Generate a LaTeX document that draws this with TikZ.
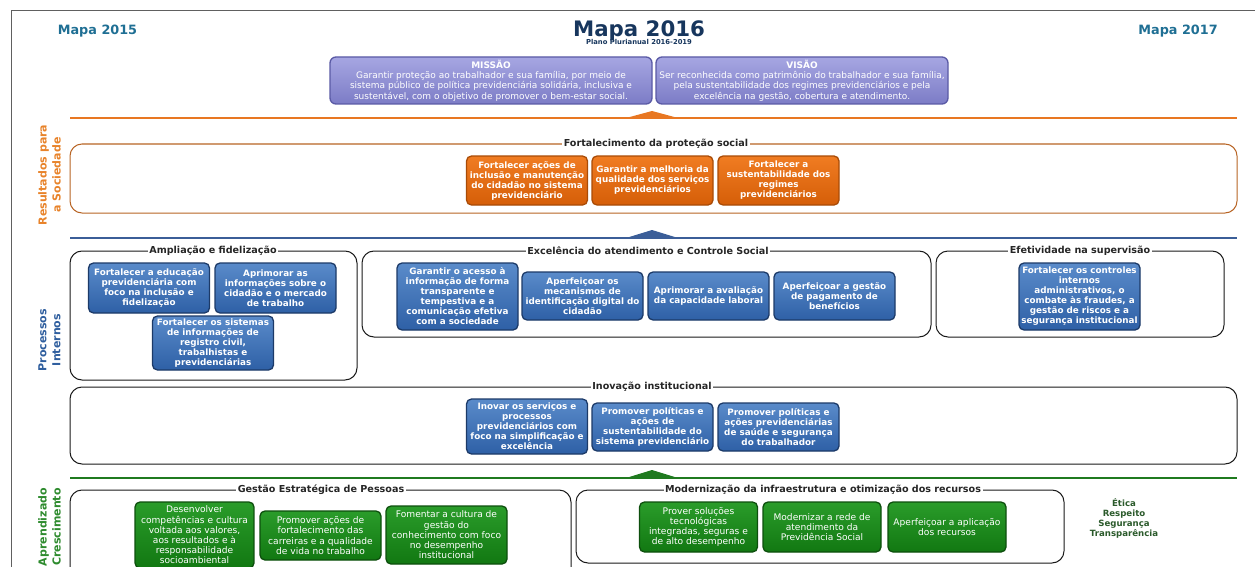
\documentclass[tikz,border=0pt]{standalone}
\usepackage{fontspec}
\setmainfont{DejaVu Sans}
\usetikzlibrary{positioning}

\definecolor{framegray}{HTML}{606060}
\definecolor{mapaside}{HTML}{1F6F94}
\definecolor{mapamain}{HTML}{17365D}
\definecolor{orangeline}{HTML}{E87722}
\definecolor{blueline}{HTML}{3B5E98}
\definecolor{greenline}{HTML}{1F7A1F}
\definecolor{laborange}{HTML}{E8832A}
\definecolor{labblue}{HTML}{2F5E9E}
\definecolor{labgreen}{HTML}{2E8B2E}
\definecolor{resborder}{HTML}{B86424}
\definecolor{grpborder}{HTML}{1A1A1A}
\definecolor{otop}{HTML}{F07C22}
\definecolor{obot}{HTML}{D55E08}
\definecolor{obrd}{HTML}{A94B06}
\definecolor{btop}{HTML}{5A8BCA}
\definecolor{bbot}{HTML}{2E60A6}
\definecolor{bbrd}{HTML}{1C3A68}
\definecolor{gtop}{HTML}{2A9C2A}
\definecolor{gbot}{HTML}{127812}
\definecolor{gbrd}{HTML}{0D4F0D}
\definecolor{ptop}{HTML}{A6A6E2}
\definecolor{pbot}{HTML}{7C7CC6}
\definecolor{pbrd}{HTML}{5A5AA5}
\definecolor{valuecol}{HTML}{2B5A2B}

\begin{document}
\begin{tikzpicture}[x=1pt,y=-1pt,
  objbox/.style={rounded corners=5pt, line width=1.3pt, text=white,
    align=center, minimum width=121pt, inner sep=1pt},
  obox/.style={objbox, draw=obrd, top color=otop, bottom color=obot,
    font=\bfseries\fontsize{8.8}{10}\selectfont},
  bbox/.style={objbox, draw=bbrd, top color=btop, bottom color=bbot,
    font=\bfseries\fontsize{8.8}{10}\selectfont},
  gbox/.style={objbox, draw=gbrd, top color=gtop, bottom color=gbot,
    font=\fontsize{9.1}{10.2}\selectfont},
  pbox/.style={rounded corners=6pt, line width=1.3pt, draw=pbrd,
    top color=ptop, bottom color=pbot, text=white, align=center,
    inner sep=0.5pt, minimum height=47pt,
    font=\fontsize{9}{10.3}\selectfont},
  grp/.style={draw=grpborder, line width=1pt, rounded corners=12pt},
  grptitle/.style={fill=white, inner xsep=1.5pt, inner ysep=0.5pt,
    text=black!85, font=\bfseries\fontsize{9.6}{11}\selectfont},
  sidelabel/.style={rotate=90, align=center,
    font=\bfseries\fontsize{11}{14}\selectfont},
  sepline/.style={line width=2.5pt}
]
\useasboundingbox (0,0) rectangle (1255,567);
\fill[white] (0,0) rectangle (1255,567);

% outer frame
\draw[framegray, line width=1pt] (1255,11) -- (11,11) -- (11,567);

% header
\node[anchor=base, text=mapaside, font=\bfseries\fontsize{12.8}{14}\selectfont] (m15) at (97.5,35) {Mapa 2015};
\node[anchor=base, text=mapaside, font=\bfseries\fontsize{12.8}{14}\selectfont] (m17) at (1178,35) {Mapa 2017};
\node[anchor=base, text=mapamain, font=\bfseries\fontsize{21.3}{24}\selectfont] (m16) at (639,37) {Mapa 2016};
\node[anchor=base, text=mapamain, font=\bfseries\fontsize{6.8}{8}\selectfont] (ppa) at (639,45) {Plano Plurianual 2016-2019};

% mission and vision
\node[pbox, minimum width=322pt] (missao) at (491,80.5) {\textbf{MISSÃO}\\Garantir proteção ao trabalhador e sua família, por meio de\\sistema público de política previdenciária solidária, inclusiva e\\sustentável, com o objetivo de promover o bem-estar social.};
\node[pbox, minimum width=292pt] (visao) at (802,80.5) {\textbf{VISÃO}\\Ser reconhecida como patrimônio do trabalhador e sua família,\\pela sustentabilidade dos regimes previdenciários e pela\\excelência na gestão, cobertura e atendimento.};

% separators
\draw[orangeline, sepline] (70,118) -- (1237,118);
\fill[orangeline] (626,118) -- (652,111) -- (678,118) -- cycle;
\draw[blueline, sepline] (70,238) -- (1237,238);
\fill[blueline] (626,238) -- (652,230) -- (678,238) -- cycle;
\draw[greenline, sepline] (70,478) -- (1237,478);
\fill[greenline] (626,478) -- (652,470) -- (678,478) -- cycle;

% perspective labels
\node[sidelabel, text=laborange] (lres) at (49.5,175) {Resultados para\\a Sociedade};
\node[sidelabel, text=labblue] (lproc) at (49.5,340) {Processos\\Internos};
\node[sidelabel, text=labgreen] (lapr) at (49.5,527) {Aprendizado\\Crescimento};

% Resultados para a Sociedade
\draw[grp, draw=resborder] (70,144) rectangle (1237,213);
\node[grptitle] (tfort) at (656,144) {Fortalecimento da proteção social};
\node[obox, minimum height=49pt] (o1) at (527,180.5) {Fortalecer ações de\\inclusão e manutenção\\do cidadão no sistema\\previdenciário};
\node[obox, minimum height=49pt] (o2) at (652.5,180.5) {Garantir a melhoria da\\qualidade dos serviços\\previdenciários};
\node[obox, minimum height=49pt] (o3) at (778.5,180.5) {Fortalecer a\\sustentabilidade dos\\regimes\\previdenciários};

% Processos Internos
\draw[grp] (70,251) rectangle (357,380);
\node[grptitle] (tamp) at (213,251) {Ampliação e fidelização};
\node[bbox, minimum height=50pt] (b1) at (149,288) {Fortalecer a educação\\previdenciária com\\foco na inclusão e\\fidelização};
\node[bbox, minimum height=50pt] (b2) at (275.5,288) {Aprimorar as\\informações sobre o\\cidadão e o mercado\\de trabalho};
\node[bbox, minimum height=54pt] (b3) at (213,343) {Fortalecer os sistemas\\de informações de\\registro civil,\\trabalhistas e\\previdenciárias};

\draw[grp] (362,251) rectangle (931,337);
\node[grptitle] (texc) at (648,251) {Excelência do atendimento e Controle Social};
\node[bbox, minimum height=67pt] (b4) at (457.5,296.5) {Garantir o acesso à\\informação de forma\\transparente e\\tempestiva e a\\comunicação efetiva\\com a sociedade};
\node[bbox, minimum height=48pt] (b5) at (582.5,296) {Aperfeiçoar os\\mecanismos de\\identificação digital do\\cidadão};
\node[bbox, minimum height=48pt] (b6) at (708.5,296) {Aprimorar a avaliação\\da capacidade laboral};
\node[bbox, minimum height=48pt] (b7) at (834.5,296) {Aperfeiçoar a gestão\\de pagamento de\\benefícios};

\draw[grp] (936,251) rectangle (1224,337);
\node[grptitle] (tefe) at (1080,251) {Efetividade na supervisão};
\node[bbox, minimum height=67pt] (b8) at (1079.5,296.5) {Fortalecer os controles\\internos\\administrativos, o\\combate às fraudes, a\\gestão de riscos e a\\segurança institucional};

\draw[grp] (70,387) rectangle (1237,464);
\node[grptitle] (tino) at (652,387) {Inovação institucional};
\node[bbox, minimum height=55pt] (b9) at (527,426.5) {Inovar os serviços e\\processos\\previdenciários com\\foco na simplificação e\\excelência};
\node[bbox, minimum height=48pt] (b10) at (652.5,427) {Promover políticas e\\ações de\\sustentabilidade do\\sistema previdenciário};
\node[bbox, minimum height=48pt] (b11) at (778.5,427) {Promover políticas e\\ações previdenciárias\\de saúde e segurança\\do trabalhador};

% Aprendizado e Crescimento
\draw[grp] (70,490) rectangle (571,590);
\node[grptitle] (tges) at (321,490) {Gestão Estratégica de Pessoas};
\node[gbox, minimum width=119pt, minimum height=66pt] (g1) at (194.5,535) {Desenvolver\\competências e cultura\\voltada aos valores,\\aos resultados e à\\responsabilidade\\socioambiental};
\node[gbox, minimum height=49pt] (g2) at (320.5,535.5) {Promover ações de\\fortalecimento das\\carreiras e a qualidade\\de vida no trabalho};
\node[gbox, minimum height=58pt] (g3) at (446.5,535) {Fomentar a cultura de\\gestão do\\conhecimento com foco\\no desempenho\\institucional};

\draw[grp] (576,490) rectangle (1064,563);
\node[grptitle] (tmod) at (823,490) {Modernização da infraestrutura e otimização dos recursos};
\node[gbox, minimum width=118pt, minimum height=50pt] (g4) at (698.5,527) {Prover soluções\\tecnológicas\\integradas, seguras e\\de alto desempenho};
\node[gbox, minimum width=118pt, minimum height=50pt] (g5) at (822,527) {Modernizar a rede de\\atendimento da\\Previdência Social};
\node[gbox, minimum width=118pt, minimum height=50pt] (g6) at (947,527) {Aperfeiçoar a aplicação\\dos recursos};

% values
\node[align=center, text=valuecol, font=\bfseries\fontsize{8.6}{10}\selectfont] (vals) at (1124,518) {Ética\\Respeito\\Segurança\\Transparência};

\end{tikzpicture}
\end{document}
